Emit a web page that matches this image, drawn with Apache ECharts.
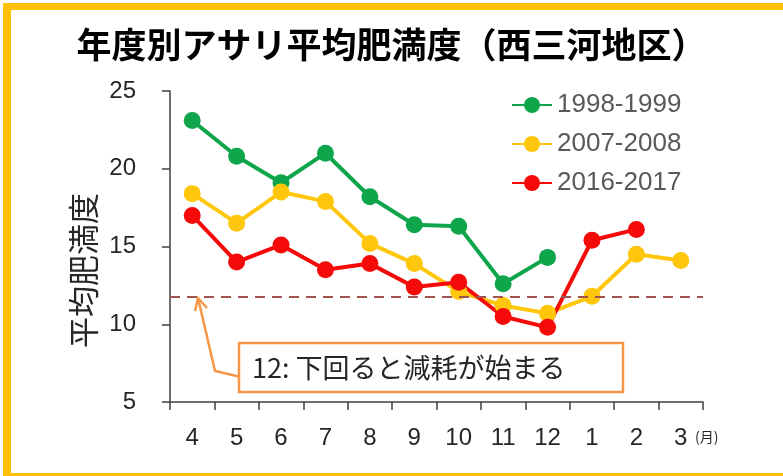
<!DOCTYPE html>
<html>
<head>
<meta charset="utf-8">
<script src="https://cdn.jsdelivr.net/npm/echarts@6/dist/echarts.min.js"></script>
<style>
  html, body { margin: 0; padding: 0; background: #fff; }
  #container { width: 783px; height: 476px; }
</style>
</head>
<body>
<div id="container"></div>
<script>
// 月（4月始まりの年度）
var months = ['4', '5', '6', '7', '8', '9', '10', '11', '12', '1', '2', '3'];
// 年度別の平均肥満度
var fy1998 = [23.1, 20.8, 19.1, 21.0, 18.2, 16.4, 16.3, 12.6, 14.3, null, null, null];
var fy2007 = [18.4, 16.5, 18.5, 17.9, 15.2, 13.9, 12.1, 11.2, 10.7, 11.8, 14.5, 14.1];
var fy2016 = [17.0, 14.0, 15.1, 13.5, 13.9, 12.4, 12.7, 10.5, 9.8, 15.4, 16.1, null];
var seriesNames = ['1998-1999', '2007-2008', '2016-2017'];
var threshold = 11.8; // 減耗ライン（12）
var yTicks = { min: 5, max: 25, interval: 5 };

var myChart = echarts.init(document.getElementById('container'));

var font = '"Liberation Sans", "Noto Sans CJK JP", sans-serif';
var jpFont = '"Noto Sans CJK JP", sans-serif';

function lineSeries(name, data, color) {
  return {
    name: name,
    type: 'line',
    data: data,
    symbol: 'circle',
    symbolSize: 17,
    lineStyle: { color: color, width: 4 },
    itemStyle: { color: color },
    connectNulls: false
  };
}

var green = lineSeries(seriesNames[0], fy1998, '#0FA64B');
// 12のライン（破線）
green.markLine = {
  silent: true,
  symbol: 'none',
  label: { show: false },
  lineStyle: { color: '#A0524F', type: [10, 7], width: 2 },
  data: [{ yAxis: threshold }]
};

myChart.setOption({
  animation: false,
  title: {
    text: '年度別アサリ平均肥満度（西三河地区）',
    left: 'center',
    top: 22,
    textStyle: { fontFamily: jpFont, fontSize: 35, fontWeight: 'bold', color: '#000' }
  },
  legend: {
    orient: 'vertical',
    left: 506,
    top: 87,
    itemWidth: 40,
    itemHeight: 20,
    itemGap: 13,
    data: seriesNames,
    textStyle: { fontFamily: font, fontSize: 26, color: '#595959' }
  },
  grid: { left: 170, right: 80, top: 91, bottom: 74 },
  xAxis: {
    type: 'category',
    data: months,
    boundaryGap: true,
    axisLine: { lineStyle: { color: '#404040', width: 1.5 } },
    axisTick: { show: true, length: 8, alignWithLabel: false, lineStyle: { color: '#404040', width: 1.5 } },
    axisLabel: { margin: 24, fontFamily: font, fontSize: 24, color: '#262626' }
  },
  yAxis: {
    type: 'value',
    min: yTicks.min,
    max: yTicks.max,
    interval: yTicks.interval,
    name: '平均肥満度',
    nameLocation: 'middle',
    nameGap: 70,
    nameTextStyle: { fontFamily: jpFont, fontSize: 31, color: '#262626', padding: [0, 48, 0, 0] },
    axisLine: { show: true, lineStyle: { color: '#404040', width: 1.5 } },
    axisTick: { show: true, length: 8, lineStyle: { color: '#404040', width: 1.5 } },
    splitLine: { show: false },
    axisLabel: { margin: 34, fontFamily: font, fontSize: 24, color: '#262626' }
  },
  series: [
    green,
    lineSeries(seriesNames[1], fy2007, '#FFC60B'),
    lineSeries(seriesNames[2], fy2016, '#F50A0A')
  ],
  graphic: [
    // 外枠（黄色）
    { type: 'rect', shape: { x: 3, y: 3, width: 780, height: 7 }, style: { fill: '#FFC000' } },
    { type: 'rect', shape: { x: 3, y: 3, width: 8, height: 473 }, style: { fill: '#FFC000' } },
    { type: 'rect', shape: { x: 3, y: 473, width: 780, height: 3 }, style: { fill: '#FFC000' } },
    // 注記の矢印
    { type: 'polyline', z: 10, shape: { points: [[241, 377], [215, 371], [198, 298]] },
      style: { stroke: '#F79646', lineWidth: 2.5, fill: null } },
    { type: 'polyline', z: 10, shape: { points: [[195, 311], [198, 298], [207, 308]] },
      style: { stroke: '#F79646', lineWidth: 2.5, fill: null } },
    // 注記の枠
    { type: 'rect', z: 10, shape: { x: 239, y: 343, width: 384, height: 49 },
      style: { fill: '#fff', stroke: '#F79646', lineWidth: 2.5 } },
    { type: 'text', z: 11, x: 252, y: 368,
      style: { text: '12: 下回ると減耗が始まる', fontFamily: jpFont, fontSize: 27, fill: '#262626', verticalAlign: 'middle' } },
    // 単位
    { type: 'text', x: 695, y: 437,
      style: { text: '(月)', fontFamily: jpFont, fontSize: 14, fill: '#262626', verticalAlign: 'middle' } }
  ]
});
</script>
</body>
</html>
